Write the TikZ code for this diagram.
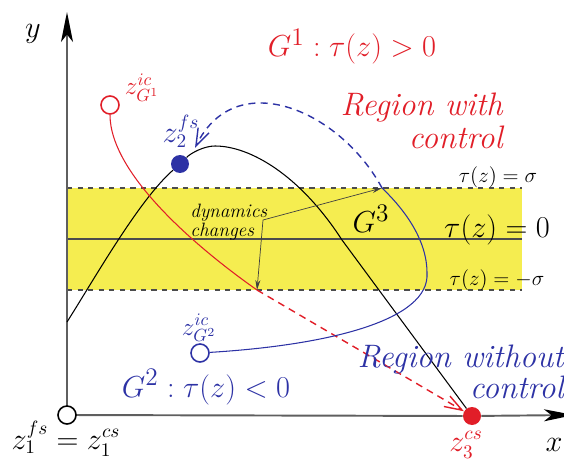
\documentclass[tikz,border=0pt]{standalone}
\usepackage{tikz}
\usepackage{xcolor}
\usetikzlibrary{arrows.meta}
\definecolor{ctrlred}{RGB}{225,30,40}
\definecolor{ctrlblue}{RGB}{45,50,165}
\definecolor{bandyellow}{RGB}{245,237,80}
\definecolor{axisgray}{RGB}{95,95,95}

\begin{document}
\begin{tikzpicture}[
    x=0.02cm, y=-0.02cm,
    opendot/.style={circle,draw,fill=white,line width=0.9pt,minimum size=0.36cm,inner sep=0pt},
    fulldot/.style={circle,minimum size=0.36cm,inner sep=0pt},
    axisline/.style={draw=axisgray,line width=1.1pt,-{Stealth[length=6mm,width=2.4mm,inset=1.5mm,color=black]}},
    bandline/.style={draw=black!70,line width=0.9pt},
    traj/.style={line width=0.6pt},
    trajdash/.style={line width=0.8pt,dash pattern=on 4pt off 3pt,-{Straight Barb[length=3.5mm,width=2.4mm]}},
    note/.style={-{Stealth[length=2mm,width=1mm]},line width=0.4pt,draw=black!75},
    zlbl/.style={inner sep=0pt,anchor=base,font=\fontsize{16}{18}\selectfont},
    iclbl/.style={inner sep=0pt,anchor=base,font=\fontsize{14}{16}\selectfont},
    taulbl/.style={inner sep=0pt,anchor=base,font=\fontsize{11.5}{13}\selectfont},
    biglbl/.style={inner sep=0pt,anchor=base,font=\fontsize{19}{22}\selectfont},
    region/.style={inner sep=0pt,anchor=east,align=right,font=\fontsize{18.5}{20}\selectfont\itshape}
  ]
    \useasboundingbox (0,0) rectangle (564,459);

    % band around tau(z)=0
    \fill[bandyellow] (67,188) rectangle (522,290);
    \draw[bandline,dashed] (67,188) -- (522,188);
    \draw[bandline] (67,239) -- (522,239);
    \draw[bandline,dashed] (67,290) -- (522,290);

    % points
    \coordinate (o) at (67,415);
    \coordinate (ytip) at (67,12);
    \coordinate (xtip) at (574,415);
    \coordinate (ystart) at (67,322);
    \coordinate (peak) at (215,146);
    \coordinate (fall) at (342,240);
    \coordinate (redcross) at (257,290);
    \coordinate (bluecross) at (382,188);
    \coordinate (blueright) at (427,273);
    \coordinate (bluetip) at (195,148);
    \coordinate (dyn) at (263,220);

    \node[fulldot,fill=ctrlblue] (z2) at (180,164) {};
    \node[fulldot,fill=ctrlred] (z3) at (472,416) {};

    % axes
    \draw[axisline] (o) -- (ytip);
    \draw[draw=axisgray,line width=1.1pt] (o) -- (z3);
    \draw[axisline] (z3) -- (xtip);

    % trajectories
    \draw[traj] (ystart) .. controls (95.5,277) and (139,200) .. (z2);
    \draw[traj] (z2) .. controls (191,153) and (204,146) .. (peak)
      .. controls (250,146) and (300,175) .. (fall) -- (z3);

    \node[opendot,draw=ctrlred] (zg1) at (110,105) {};
    \draw[traj,ctrlred] (zg1) .. controls (110,175) and (200,250) .. (redcross);
    \draw[trajdash,ctrlred] (redcross) -- (z3);

    \node[opendot,draw=ctrlblue] (zg2) at (200,353) {};
    \draw[traj,ctrlblue] (zg2) .. controls (330,345) and (430,320) .. (blueright)
      .. controls (427,240) and (405,210) .. (bluecross);
    \draw[trajdash,ctrlblue] (bluecross) .. controls (340,110) and (235,65) .. (bluetip);

    \node[opendot] (z1) at (o) {};

    % annotation
    \draw[note] (dyn) -- (bluecross);
    \draw[note] (dyn) -- (redcross);
    \node[inner sep=0pt,anchor=west,align=left,font=\fontsize{11}{11}\selectfont\itshape]
      (dynlbl) at (190,222) {dynamics\\changes};

    % labels
    \node[zlbl] (ylbl) at (33,38) {$y$};
    \node[zlbl] (xlbl) at (554,451) {$x$};
    \node[zlbl] (z1lbl) at (66,449) {$z_1^{fs}=z_1^{cs}$};
    \node[zlbl,text=ctrlred] (z3lbl) at (466,451) {$z_3^{cs}$};
    \node[zlbl,text=ctrlblue] (z2lbl) at (181,143) {$z_2^{fs}$};
    \node[iclbl,text=ctrlred] (zg1lbl) at (142,95) {$z_{G^1}^{ic}$};
    \node[iclbl,text=ctrlblue] (zg2lbl) at (199,335) {$z_{G^2}^{ic}$};

    \node[biglbl,text=ctrlred] (g1) at (352,57) {$G^1:\tau(z)>0$};
    \node[biglbl,text=ctrlblue] (g2) at (206,397) {$G^2:\tau(z)<0$};
    \node[biglbl] (g3) at (371,233) {$G^3$};

    \node[taulbl] (tauup) at (498,183) {$\tau(z)=\sigma$};
    \node[inner sep=0pt,anchor=base,font=\fontsize{16.3}{18}\selectfont] (tauzero) at (497,237) {$\tau(z)=0$};
    \node[taulbl] (taudown) at (497,285) {$\tau(z)=-\sigma$};

    \node[region,text=ctrlred] (withctrl) at (503,121) {Region with\\[-1pt]control};
    \node[region,text=ctrlblue,font=\fontsize{18.5}{14}\selectfont\itshape] (noctrl) at (564,372) {Region without\\control};
  \end{tikzpicture}
\end{document}
